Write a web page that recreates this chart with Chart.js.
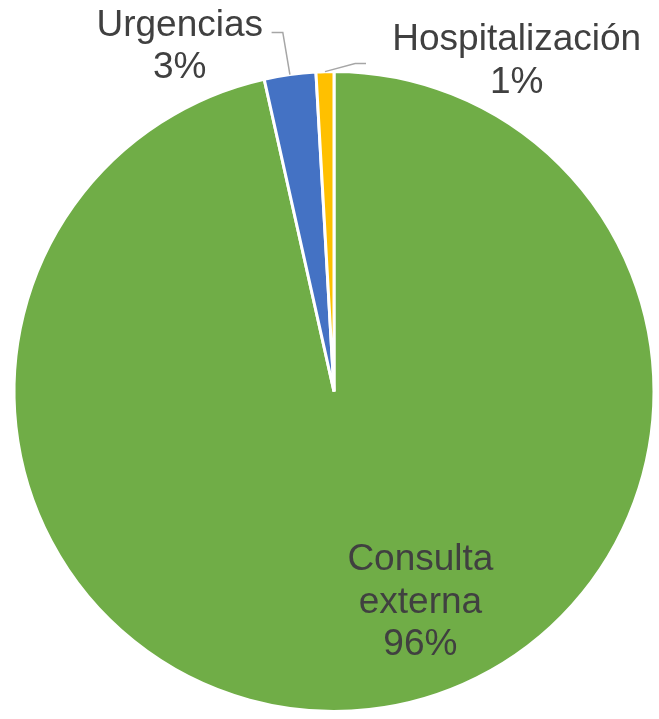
<!DOCTYPE html>
<html>
<head>
<meta charset="utf-8">
<script src="https://cdn.jsdelivr.net/npm/chart.js@4/dist/chart.umd.min.js"></script>
<style>
  html, body { margin: 0; padding: 0; background: #ffffff; }
  #wrap { width: 659px; height: 719px; }
</style>
</head>
<body>
<div id="wrap"><canvas id="c" width="659" height="719"></canvas></div>
<script>
// ---- data ----
const categories = ['Consulta externa', 'Urgencias', 'Hospitalización'];
const values = [96.5, 2.6, 0.9];
const percentLabels = ['96%', '3%', '1%'];
const sliceColors = ['#70AD47', '#4472C4', '#FFC000'];

// ---- label layout (in units of pie radius, relative to pie centre) ----
const labelLayout = [
  { lines: ['Consulta', 'externa'], dx: 0.270, dy: 0.558, leader: null },
  { lines: ['Urgencias'], dx: -0.482, dy: -1.112,
    leader: { elbow: [-0.160, -1.122], end: [-0.195, -1.122] } },
  { lines: ['Hospitalización'], dx: 0.571, dy: -1.067,
    leader: { elbow: [0.066, -1.025], end: [0.100, -1.025] } }
];

const FONT = '37px "Liberation Sans", Arial, sans-serif';
const LINE_H = 42.6;

const labelPlugin = {
  id: 'pieLabels',
  afterDatasetsDraw(chart) {
    const ctx = chart.ctx;
    const meta = chart.getDatasetMeta(0);
    meta.data.forEach((arc, i) => {
      const p = arc.getProps(['x', 'y', 'startAngle', 'endAngle', 'outerRadius'], true);
      const r = p.outerRadius;
      const cx = p.x, cy = p.y;
      const lay = labelLayout[i];
      ctx.save();
      if (lay.leader) {
        const mid = (p.startAngle + p.endAngle) / 2;
        const sx = cx + Math.cos(mid) * r;
        const sy = cy + Math.sin(mid) * r;
        ctx.strokeStyle = '#A6A6A6';
        ctx.lineWidth = 1.5;
        ctx.beginPath();
        ctx.moveTo(sx, sy);
        ctx.lineTo(cx + lay.leader.elbow[0] * r, cy + lay.leader.elbow[1] * r);
        ctx.lineTo(cx + lay.leader.end[0] * r, cy + lay.leader.end[1] * r);
        ctx.stroke();
      }
      ctx.fillStyle = '#404040';
      ctx.font = FONT;
      ctx.textAlign = 'center';
      ctx.textBaseline = 'alphabetic';
      const tx = cx + lay.dx * r;
      let ty = cy + lay.dy * r;
      const lines = lay.lines.concat([percentLabels[i]]);
      lines.forEach((t, k) => {
        ctx.fillText(t, tx, ty + k * LINE_H);
      });
      ctx.restore();
    });
  }
};

new Chart(document.getElementById('c'), {
  type: 'pie',
  data: {
    labels: categories,
    datasets: [{
      data: values,
      backgroundColor: sliceColors,
      borderColor: '#ffffff',
      borderWidth: 3
    }]
  },
  options: {
    responsive: false,
    animation: false,
    layout: { padding: { left: 12, top: 70, right: 3, bottom: 6 } },
    plugins: {
      legend: { display: false },
      tooltip: { enabled: false }
    }
  },
  plugins: [labelPlugin]
});
</script>
</body>
</html>
